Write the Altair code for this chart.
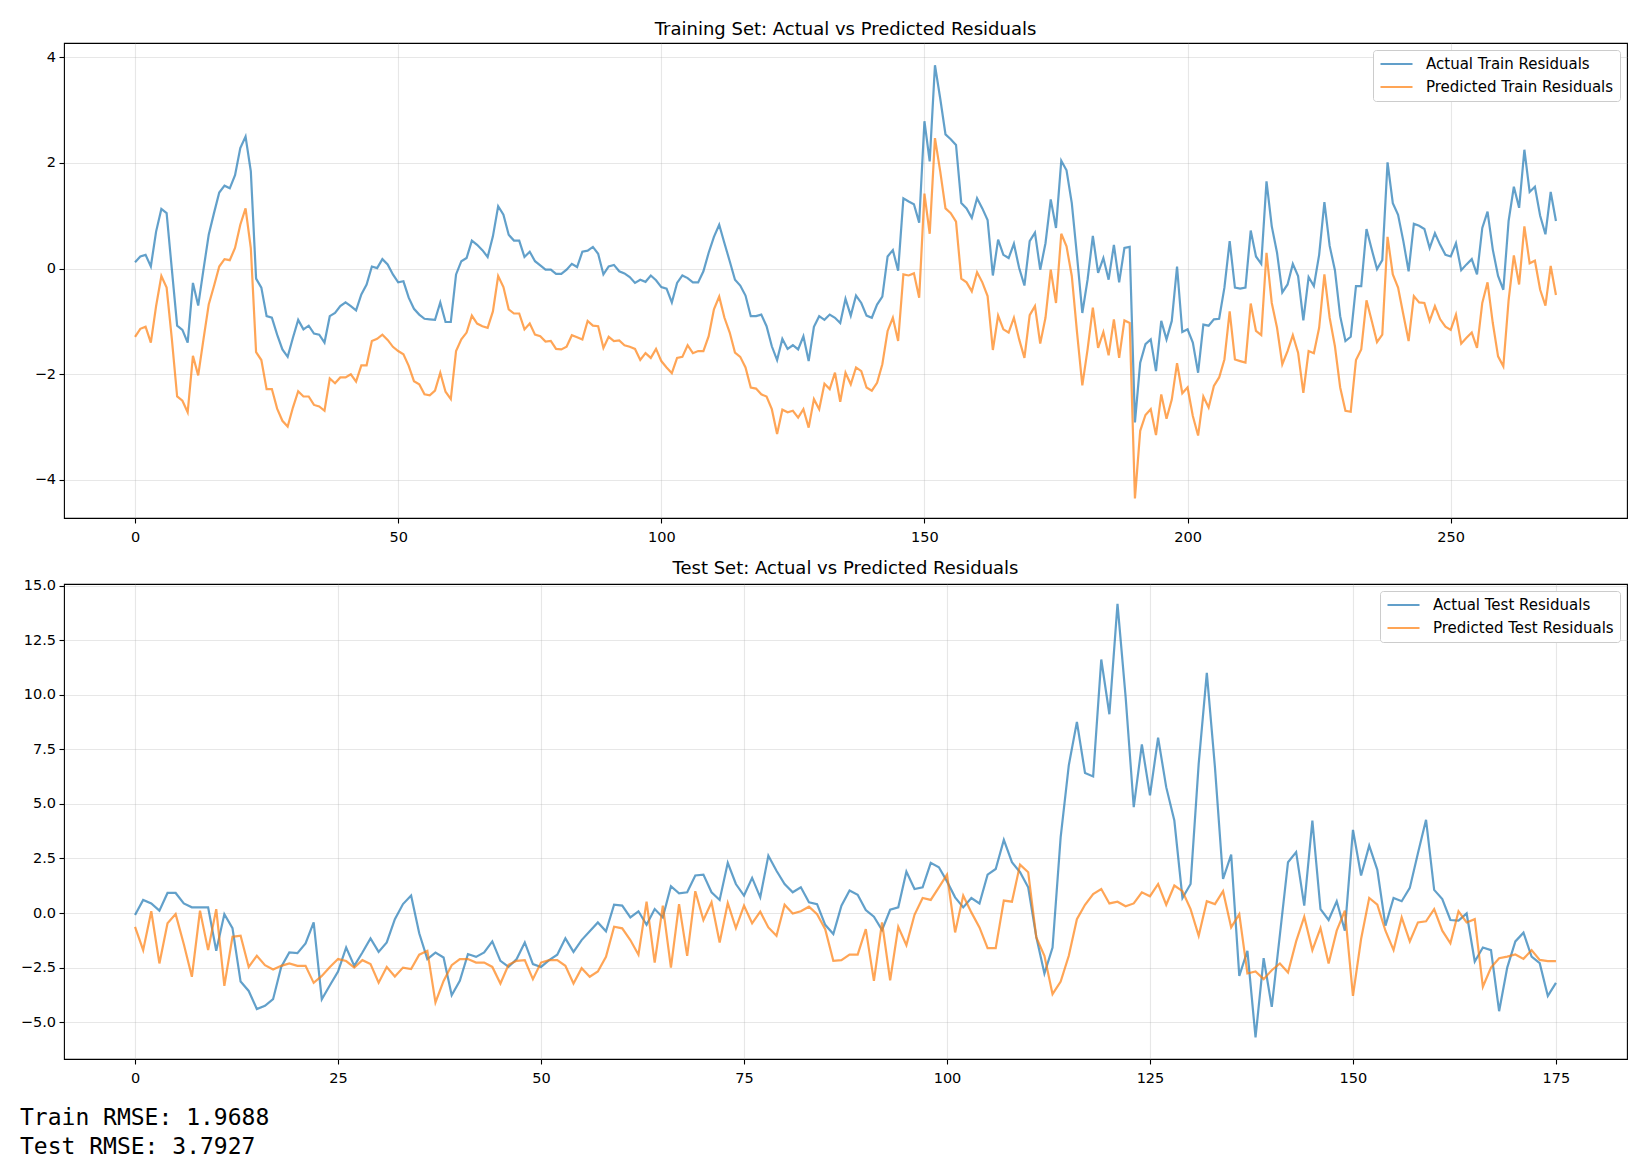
import altair as alt
import pandas as pd

# ---------------- data ----------------
train_actual = [
    0.12, 0.23, 0.26, 0.04, 0.70, 1.13, 1.05, -0.02, -1.08, -1.16,
    -1.40, -0.27, -0.70, -0.02, 0.64, 1.05, 1.44, 1.57, 1.52, 1.77,
    2.28, 2.50, 1.84, -0.19, -0.36, -0.90, -0.93, -1.25, -1.53, -1.67,
    -1.31, -0.97, -1.15, -1.08, -1.23, -1.25, -1.40, -0.90, -0.84, -0.71,
    -0.64, -0.71, -0.79, -0.49, -0.30, 0.04, 0.01, 0.18, 0.08, -0.11,
    -0.26, -0.24, -0.55, -0.76, -0.87, -0.95, -0.96, -0.97, -0.64, -1.01,
    -1.01, -0.11, 0.14, 0.20, 0.53, 0.45, 0.35, 0.22, 0.61, 1.18,
    1.02, 0.64, 0.53, 0.53, 0.22, 0.32, 0.14, 0.06, -0.02, -0.02,
    -0.10, -0.10, -0.02, 0.09, 0.03, 0.32, 0.34, 0.41, 0.28, -0.11,
    0.04, 0.07, -0.05, -0.09, -0.16, -0.27, -0.21, -0.25, -0.13, -0.22,
    -0.35, -0.38, -0.64, -0.27, -0.13, -0.18, -0.26, -0.26, -0.05, 0.30,
    0.60, 0.83, 0.48, 0.14, -0.21, -0.32, -0.51, -0.90, -0.90, -0.87,
    -1.09, -1.47, -1.73, -1.33, -1.52, -1.45, -1.53, -1.28, -1.75, -1.10,
    -0.90, -0.97, -0.87, -0.93, -1.03, -0.57, -0.89, -0.51, -0.65, -0.89,
    -0.93, -0.68, -0.53, 0.23, 0.35, -0.04, 1.33, 1.27, 1.22, 0.87,
    2.79, 2.03, 3.85, 3.22, 2.54, 2.45, 2.34, 1.24, 1.14, 0.96,
    1.33, 1.14, 0.92, -0.13, 0.55, 0.26, 0.20, 0.47, 0.01, -0.32,
    0.52, 0.68, -0.02, 0.48, 1.31, 0.77, 2.04, 1.86, 1.24, 0.23,
    -0.84, -0.21, 0.62, -0.08, 0.20, -0.21, 0.45, -0.26, 0.39, 0.41,
    -2.91, -1.78, -1.43, -1.34, -1.94, -0.99, -1.34, -0.99, 0.04, -1.20,
    -1.15, -1.40, -1.97, -1.06, -1.08, -0.96, -0.95, -0.36, 0.52, -0.36,
    -0.38, -0.36, 0.72, 0.23, 0.09, 1.65, 0.80, 0.30, -0.45, -0.30,
    0.09, -0.14, -0.98, -0.16, -0.33, 0.26, 1.26, 0.43, -0.03, -0.90,
    -1.37, -1.29, -0.33, -0.33, 0.75, 0.36, -0.01, 0.16, 2.01, 1.24,
    1.02, 0.52, -0.05, 0.85, 0.81, 0.75, 0.39, 0.67, 0.45, 0.26,
    0.23, 0.48, -0.03, 0.08, 0.18, -0.11, 0.77, 1.08, 0.36, -0.14,
    -0.40, 0.90, 1.55, 1.15, 2.25, 1.45, 1.55, 1.00, 0.65, 1.45,
    0.90,
]
train_pred = [
    -1.29, -1.14, -1.10, -1.40, -0.71, -0.14, -0.36, -1.34, -2.42, -2.50,
    -2.72, -1.65, -2.02, -1.34, -0.68, -0.33, 0.04, 0.18, 0.16, 0.39,
    0.83, 1.14, 0.39, -1.58, -1.73, -2.28, -2.28, -2.65, -2.88, -2.99,
    -2.63, -2.32, -2.42, -2.42, -2.58, -2.61, -2.69, -2.08, -2.17, -2.06,
    -2.06, -2.00, -2.14, -1.83, -1.83, -1.37, -1.33, -1.25, -1.35, -1.48,
    -1.56, -1.62, -1.84, -2.13, -2.19, -2.38, -2.40, -2.31, -1.97, -2.33,
    -2.47, -1.56, -1.34, -1.21, -0.89, -1.04, -1.09, -1.12, -0.81, -0.14,
    -0.35, -0.77, -0.85, -0.85, -1.15, -1.04, -1.25, -1.28, -1.38, -1.37,
    -1.52, -1.53, -1.48, -1.26, -1.30, -1.34, -0.99, -1.08, -1.09, -1.50,
    -1.29, -1.37, -1.36, -1.45, -1.48, -1.52, -1.73, -1.60, -1.69, -1.52,
    -1.75, -1.87, -1.98, -1.69, -1.67, -1.45, -1.60, -1.56, -1.56, -1.28,
    -0.77, -0.53, -0.93, -1.21, -1.59, -1.67, -1.87, -2.25, -2.27, -2.38,
    -2.42, -2.66, -3.13, -2.67, -2.72, -2.69, -2.82, -2.66, -3.01, -2.47,
    -2.66, -2.18, -2.28, -1.97, -2.52, -1.97, -2.19, -1.87, -1.94, -2.25,
    -2.31, -2.16, -1.81, -1.18, -0.93, -1.37, -0.11, -0.13, -0.09, -0.55,
    1.42, 0.66, 2.47, 1.84, 1.14, 1.05, 0.89, -0.19, -0.26, -0.43,
    -0.07, -0.26, -0.52, -1.54, -0.89, -1.15, -1.21, -0.93, -1.34, -1.69,
    -0.88, -0.71, -1.42, -0.93, -0.02, -0.65, 0.66, 0.42, -0.14, -1.21,
    -2.21, -1.53, -0.74, -1.50, -1.20, -1.64, -0.96, -1.69, -0.98, -1.03,
    -4.35, -3.07, -2.77, -2.66, -3.15, -2.38, -2.84, -2.48, -1.79, -2.36,
    -2.25, -2.79, -3.16, -2.42, -2.63, -2.22, -2.06, -1.72, -0.81, -1.72,
    -1.75, -1.78, -0.66, -1.18, -1.26, 0.30, -0.65, -1.12, -1.81, -1.56,
    -1.26, -1.59, -2.35, -1.56, -1.60, -1.12, -0.11, -0.93, -1.47, -2.25,
    -2.69, -2.71, -1.73, -1.53, -0.60, -0.99, -1.39, -1.25, 0.60, -0.11,
    -0.36, -0.87, -1.37, -0.52, -0.64, -0.65, -0.99, -0.71, -0.96, -1.10,
    -1.16, -0.87, -1.42, -1.31, -1.21, -1.50, -0.65, -0.26, -1.03, -1.66,
    -1.85, -0.60, 0.25, -0.30, 0.80, 0.10, 0.15, -0.40, -0.70, 0.05,
    -0.50,
]
test_actual = [
    -0.09, 0.60, 0.44, 0.11, 0.92, 0.92, 0.44, 0.26, 0.26, 0.26,
    -1.73, -0.05, -0.69, -3.14, -3.57, -4.40, -4.25, -3.95, -2.47, -1.81,
    -1.84, -1.39, -0.43, -3.95, -3.31, -2.68, -1.58, -2.42, -1.81, -1.16,
    -1.78, -1.35, -0.28, 0.41, 0.80, -0.93, -2.11, -1.81, -2.04, -3.77,
    -3.11, -1.88, -2.01, -1.81, -1.30, -2.19, -2.47, -2.11, -1.35, -2.34,
    -2.47, -2.16, -1.91, -1.16, -1.78, -1.24, -0.84, -0.43, -0.84, 0.38,
    0.34, -0.20, 0.08, -0.54, 0.18, -0.20, 1.23, 0.90, 0.95, 1.72,
    1.76, 0.95, 0.60, 2.30, 1.33, 0.80, 1.61, 0.72, 2.63, 1.94,
    1.33, 0.95, 1.18, 0.49, 0.41, -0.54, -0.96, 0.34, 1.03, 0.84,
    0.14, -0.17, -0.78, 0.15, 0.26, 1.90, 1.10, 1.18, 2.30, 2.10,
    1.45, 0.72, 0.26, 0.69, 0.44, 1.76, 2.02, 3.35, 2.33, 1.87,
    1.18, -1.10, -2.77, -1.58, 3.48, 6.77, 8.76, 6.42, 6.26, 11.62,
    9.11, 14.17, 9.91, 4.85, 7.73, 5.39, 8.04, 5.77, 4.24, 0.69,
    1.33, 6.85, 11.01, 6.69, 1.56, 2.68, -2.88, -1.73, -5.70, -2.07,
    -4.30, -1.00, 2.33, 2.79, 0.34, 4.24, 0.18, -0.32, 0.54, -0.81,
    3.81, 1.72, 3.09, 1.98, -0.58, 0.69, 0.54, 1.15, 2.74, 4.27,
    1.06, 0.64, -0.32, -0.35, -0.02, -2.22, -1.58, -1.70, -4.50, -2.50,
    -1.30, -0.90, -2.00, -2.30, -3.80, -3.20,
]
test_pred = [
    -0.63, -1.70, 0.08, -2.31, -0.47, -0.05, -1.42, -2.92, 0.11, -1.70,
    0.18, -3.34, -1.09, -1.04, -2.47, -1.96, -2.39, -2.59, -2.42, -2.31,
    -2.42, -2.42, -3.20, -2.88, -2.47, -2.11, -2.20, -2.50, -2.16, -2.34,
    -3.19, -2.47, -2.91, -2.50, -2.57, -1.91, -1.73, -4.10, -3.11, -2.39,
    -2.11, -2.11, -2.27, -2.27, -2.47, -3.23, -2.37, -2.19, -2.16, -3.03,
    -2.27, -2.16, -2.16, -2.42, -3.23, -2.53, -2.92, -2.68, -2.01, -0.63,
    -0.70, -1.24, -1.91, 0.52, -2.27, 0.34, -2.50, 0.41, -1.96, 1.00,
    -0.32, 0.49, -1.35, 0.46, -0.69, 0.34, -0.47, 0.06, -0.66, -1.04,
    0.38, -0.02, 0.08, 0.29, -0.05, -0.74, -2.19, -2.16, -1.91, -1.91,
    -0.74, -3.11, -0.43, -3.08, -0.63, -1.47, -0.08, 0.69, 0.60, 1.18,
    1.76, -0.89, 0.80, 0.03, -0.66, -1.61, -1.61, 0.57, 0.52, 2.22,
    1.87, -1.12, -1.96, -3.72, -3.14, -1.96, -0.28, 0.38, 0.87, 1.10,
    0.44, 0.52, 0.31, 0.44, 0.95, 0.77, 1.33, 0.38, 1.26, 1.00,
    0.18, -1.04, 0.54, 0.41, 1.00, -0.66, -0.05, -2.77, -2.68, -3.03,
    -2.62, -2.31, -2.73, -1.30, -0.17, -1.70, -0.69, -2.31, -0.81, 0.11,
    -3.80, -1.19, 0.69, 0.38, -0.81, -1.70, -0.20, -1.30, -0.43, -0.38,
    0.18, -0.81, -1.39, 0.08, -0.43, -0.28, -3.38, -2.50, -2.07, -2.00,
    -1.90, -2.10, -1.70, -2.15, -2.20, -2.20,
]

train_names = ["Actual Train Residuals", "Predicted Train Residuals"]
test_names = ["Actual Test Residuals", "Predicted Test Residuals"]
train_title = "Training Set: Actual vs Predicted Residuals"
test_title = "Test Set: Actual vs Predicted Residuals"
train_xticks = [0, 50, 100, 150, 200, 250]
train_yticks = [-4, -2, 0, 2, 4]
test_xticks = [0, 25, 50, 75, 100, 125, 150, 175]
test_yticks = [-5.0, -2.5, 0.0, 2.5, 5.0, 7.5, 10.0, 12.5, 15.0]
rmse_labels = ["Train RMSE: 1.9688", "Test RMSE: 3.7927"]

# ---------------- styling ----------------
FONT = "DejaVu Sans"
MONO = "DejaVu Sans Mono"
COLORS = ["#1f77b4", "#ff7f0e"]
W, H = 1563, 475


def panel(actual, pred, names, title, xdom, ydom, xticks, yticks, yfmt, toff):
    n = len(actual)
    df = pd.DataFrame({
        "idx": list(range(n)) * 2,
        "value": actual + pred,
        "series": [names[0]] * n + [names[1]] * n,
        "k": [0] * n + [1] * n,
    })
    chart = alt.Chart(df).mark_line(strokeWidth=2.2, opacity=0.7, clip=True).encode(
        x=alt.X("idx:Q",
                scale=alt.Scale(domain=xdom, nice=False, zero=False),
                axis=alt.Axis(values=xticks, title=None, format="d", labelPadding=7)),
        y=alt.Y("value:Q",
                scale=alt.Scale(domain=ydom, nice=False, zero=False),
                axis=alt.Axis(values=yticks, title=None, format=yfmt, labelPadding=3.5,
                              labelExpr="replace(datum.label, '-', '\u2212')")),
        color=alt.Color("series:N",
                        scale=alt.Scale(domain=names, range=COLORS),
                        legend=alt.Legend(title=None, orient="top-right", offset=7,
                                          padding=6, rowPadding=7, clipHeight=16,
                                          symbolType="stroke", symbolSize=1024,
                                          symbolStrokeWidth=2.2, symbolOpacity=0.7,
                                          labelOffset=12, labelFontSize=15,
                                          labelFont=FONT, labelColor="black",
                                          labelLimit=400,
                                          strokeColor="#cccccc", fillColor="white",
                                          cornerRadius=3)),
        detail="k:N",
    ).properties(
        width=W, height=H,
        title=alt.TitleParams(title, font=FONT, fontSize=18, fontWeight="normal",
                              color="black", anchor="middle", offset=toff,
                              frame="group"),
    )
    return chart


top = panel(train_actual, train_pred, train_names, train_title,
            [-13.5, 283.5], [-4.72, 4.27], train_xticks, train_yticks, "d", 4)
bottom_lines = panel(test_actual, test_pred, test_names, test_title,
                     [-8.75, 183.75], [-6.69, 15.08], test_xticks, test_yticks, ".1f", 0)

texts = []
for k, lab in enumerate(rmse_labels):
    texts.append(
        alt.Chart(pd.DataFrame({"label": [lab]})).mark_text(
            font=MONO, fontSize=23, align="left", baseline="alphabetic", color="black"
        ).encode(text="label:N", x=alt.value(-44), y=alt.value(541 + 29 * k))
    )

bottom = alt.layer(bottom_lines, *texts)

chart = alt.vconcat(top, bottom, spacing=14).resolve_scale(
    color="independent", x="independent", y="independent"
).resolve_legend(color="independent").properties(
    padding={"left": 11, "top": 12, "right": 0, "bottom": 0},
    background="white",
).configure_view(
    stroke="black", strokeWidth=1.1
).configure_axis(
    grid=True, gridColor="#b0b0b0", gridOpacity=0.3, gridWidth=1.1,
    domain=False, ticks=True, tickColor="black", tickSize=5, tickWidth=1.1,
    labelFont=FONT, labelFontSize=14.5, labelColor="black",
    labelOverlap=False, labelFlush=False,
)

chart.save("out.html", embed_options={"renderer": "svg", "actions": False})
